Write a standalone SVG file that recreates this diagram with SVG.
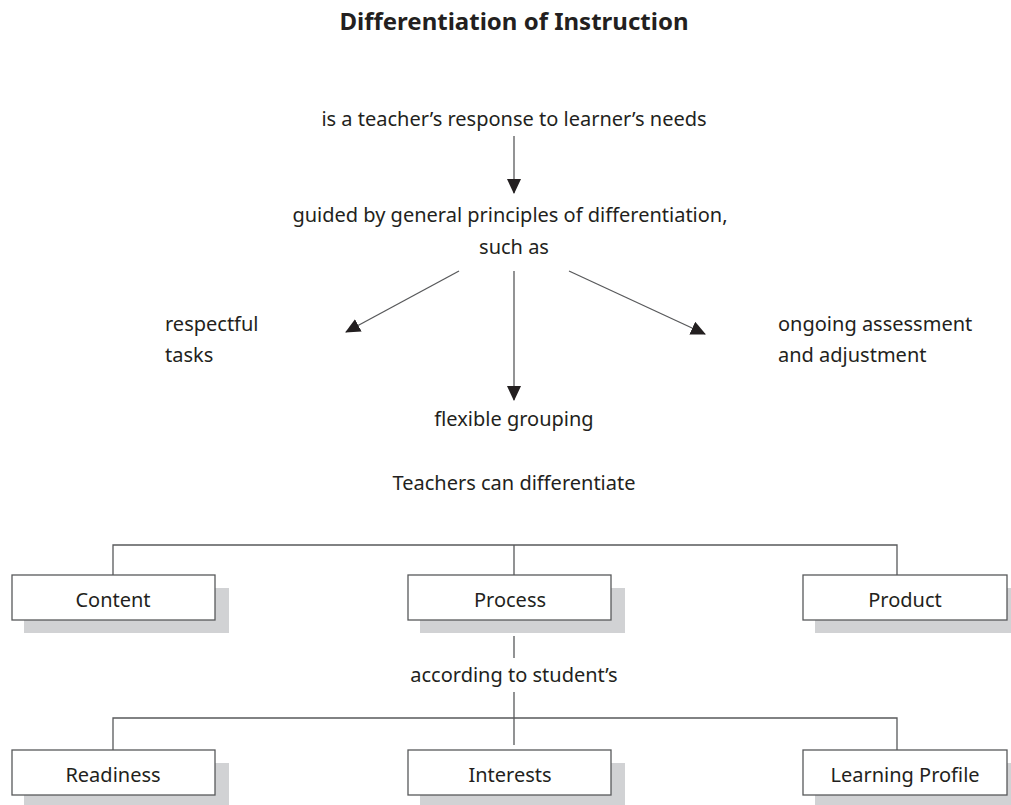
<svg xmlns="http://www.w3.org/2000/svg" width="1011" height="805" viewBox="0 0 1011 805">
<style>
text{font-family:"Noto Sans","DejaVu Sans",sans-serif;font-size:20px;fill:#231f20}
.t{font-weight:bold;font-size:24px}
.m{text-anchor:middle}
.box{fill:#fff;stroke:#58595b;stroke-width:1.3}
.sh{fill:#d1d2d4}
.ln{stroke:#58595b;stroke-width:1.3;fill:none}
</style>
<defs>
<marker id="ah" markerWidth="15" markerHeight="14" refX="14" refY="7" orient="auto" markerUnits="userSpaceOnUse">
<path d="M0,0 L15,7 L0,14 z" fill="#231f20"/>
</marker>
</defs>
<rect width="1011" height="805" fill="#fff"/>
<text class="t m" x="514" y="30">Differentiation of Instruction</text>
<g id="connectors">
<line class="ln" x1="514" y1="136" x2="514" y2="193" marker-end="url(#ah)"/>
<line class="ln" x1="459" y1="271" x2="346" y2="332" marker-end="url(#ah)"/>
<line class="ln" x1="514" y1="271" x2="514" y2="400" marker-end="url(#ah)"/>
<line class="ln" x1="569" y1="271" x2="705" y2="334" marker-end="url(#ah)"/>
<path class="ln" d="M113,575 V545 H897 V575 M514,545 V575"/>
<path class="ln" d="M514,636 V658 M514,692 V745 M113,750 V718 H897 V750"/>
</g>
<g id="n-response"><text class="m" x="514" y="126">is a teacher’s response to learner’s needs</text></g>
<g id="n-guided"><text class="m" x="510" y="222">guided by general principles of differentiation,</text><text class="m" x="514" y="254">such as</text></g>
<g id="n-respectful"><text x="165" y="331">respectful</text><text x="165" y="362">tasks</text></g>
<g id="n-ongoing"><text x="778" y="331">ongoing assessment</text><text x="778" y="362">and adjustment</text></g>
<g id="n-flexible"><text class="m" x="514" y="426">flexible grouping</text></g>
<g id="n-teachers"><text class="m" x="514" y="490">Teachers can differentiate</text></g>
<g id="n-content"><rect class="sh" x="24" y="588" width="205" height="45"/><rect class="box" x="12" y="575" width="203" height="45"/><text class="m" x="113" y="607">Content</text></g>
<g id="n-process"><rect class="sh" x="420" y="588" width="205" height="45"/><rect class="box" x="408" y="575" width="203" height="45"/><text class="m" x="510" y="607">Process</text></g>
<g id="n-product"><rect class="sh" x="815" y="588" width="205" height="45"/><rect class="box" x="803" y="575" width="204" height="45"/><text class="m" x="905" y="607">Product</text></g>
<g id="n-according"><text class="m" x="514" y="682">according to student’s</text></g>
<g id="n-readiness"><rect class="sh" x="24" y="763" width="205" height="45"/><rect class="box" x="12" y="750" width="203" height="45"/><text class="m" x="113" y="782">Readiness</text></g>
<g id="n-interests"><rect class="sh" x="420" y="763" width="205" height="45"/><rect class="box" x="408" y="750" width="203" height="45"/><text class="m" x="510" y="782">Interests</text></g>
<g id="n-profile"><rect class="sh" x="815" y="763" width="205" height="45"/><rect class="box" x="803" y="750" width="204" height="45"/><text class="m" x="905" y="782">Learning Profile</text></g>
</svg>
